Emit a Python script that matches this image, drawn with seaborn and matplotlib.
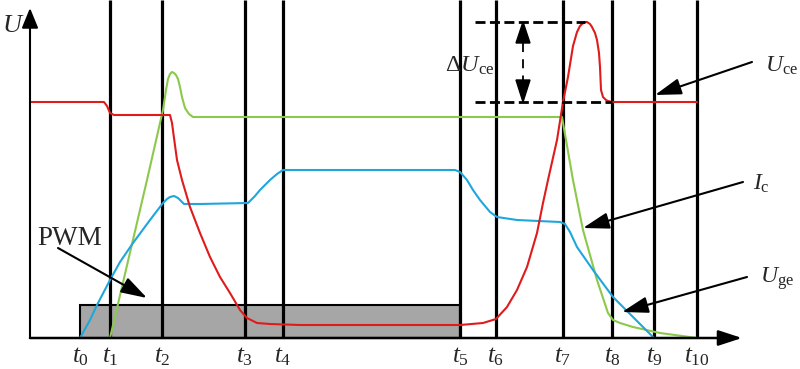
import matplotlib
matplotlib.use("Agg")
import matplotlib.pyplot as plt
import seaborn as sns
import pandas as pd
from matplotlib.patches import Rectangle, Polygon

# ---------------- data (x: time position, y: level above the time axis) -------------
t_names = ["t0", "t1", "t2", "t3", "t4", "t5", "t6", "t7", "t8", "t9", "t10"]
t_pos = [80, 110, 162, 245, 283, 460, 496, 563, 612, 654, 697]

uce_x = [30, 104, 107, 110, 114, 170, 172, 174, 177, 182, 190, 200, 210, 220, 230, 240, 247,
         257, 270, 300, 460, 483, 496, 507, 517, 527, 537, 543, 548, 557, 563, 568, 573,
         577, 580, 582, 585, 587, 590, 592, 595, 597, 599, 600, 601, 603, 606, 608, 612, 697]
uce_y = [236, 236, 232, 225, 223, 223, 215, 200, 178, 158, 131, 105, 81, 61, 45, 28, 20,
         15, 14, 13, 13, 15, 19, 31, 48, 71, 105, 135, 158, 198, 236, 261, 292,
         306, 312, 314, 316, 316, 314, 311, 305, 298, 285, 271, 248, 241, 238, 237, 236, 236]

uge_x = [110, 147, 160, 163, 166, 168, 170, 172, 174, 176, 178, 180, 182, 185, 189, 193,
         200, 562, 566, 573, 583, 597, 608, 613, 620, 633, 660, 697]
uge_y = [0, 158, 215, 228, 248, 259, 264, 266, 265, 263, 259, 251, 241, 230, 224, 221,
         221, 221, 198, 158, 108, 58, 25, 18, 15, 11, 5, 0]

ic_x = [80, 90, 97, 110, 120, 133, 150, 163, 167, 170, 174, 178, 184, 200, 248, 255, 260,
        270, 277, 283, 455, 460, 467, 473, 480, 490, 497, 517, 560, 565, 570, 577, 593,
        613, 633, 654, 697]
ic_y = [0, 18, 33, 58, 76, 95, 118, 135, 139, 141, 142, 140, 134, 134, 135, 142, 148,
        158, 164, 168, 168, 166, 158, 148, 138, 126, 121, 118, 116, 114, 106, 91, 68,
        41, 21, 0, 0]

pwm_start, pwm_end, pwm_level = 80, 460, 33
uce_low, uce_peak = 236, 316

# ---------------- style -------------
sns.set_style("white")
plt.rcParams["font.family"] = ["Liberation Serif", "DejaVu Serif"]
plt.rcParams["mathtext.fontset"] = "custom"
plt.rcParams["mathtext.rm"] = "Liberation Serif"
plt.rcParams["mathtext.it"] = "Liberation Serif:italic"

RED = "#e01b1b"
GREEN = "#8cc84b"
BLUE = "#1fa6dc"

fig = plt.figure(figsize=(8.0, 3.69), dpi=100)
ax = fig.add_axes([0, 0, 1, 1])

# PWM box
ax.add_patch(Rectangle((pwm_start, 0), pwm_end - pwm_start, pwm_level,
                       facecolor="#a6a6a6", edgecolor="black", lw=1.5, zorder=1))

# time markers
ax.vlines(t_pos[1:], 0, 338, colors="black", lw=2.3, zorder=2)

# curves
df_uce = pd.DataFrame({"x": uce_x, "y": uce_y})
df_uge = pd.DataFrame({"x": uge_x, "y": uge_y})
df_ic = pd.DataFrame({"x": ic_x, "y": ic_y})
sns.lineplot(data=df_uge, x="x", y="y", ax=ax, color=GREEN, lw=1.5, estimator=None, zorder=3)
sns.lineplot(data=df_ic, x="x", y="y", ax=ax, color=BLUE, lw=1.5, estimator=None, zorder=3)
sns.lineplot(data=df_uce, x="x", y="y", ax=ax, color=RED, lw=1.5, estimator=None, zorder=3)
ax.set_xlim(0, 800)
ax.set_ylim(-31, 338)
ax.axis("off")

# axes with arrows
ax.annotate("", xy=(30, 330), xytext=(30, 0),
            arrowprops=dict(arrowstyle="-|>,head_length=1.22,head_width=0.5", lw=1.5,
                            color="black", shrinkA=0, shrinkB=0, mutation_scale=10), zorder=4)
ax.annotate("", xy=(742, 0), xytext=(30, 0),
            arrowprops=dict(arrowstyle="-|>,head_length=1.44,head_width=0.47", lw=1.8,
                            color="black", shrinkA=0, shrinkB=0, mutation_scale=10), zorder=4)

ax.text(13, 312, "$U$", fontsize=19, ha="center", va="center")
for name, x in zip(t_names, t_pos):
    ax.text(x, -24, "$t_{%s}$" % name[1:], fontsize=18, ha="center", va="baseline")

# PWM label
ax.text(37, 93, "PWM", fontsize=19.5, ha="left", va="baseline")
arrow_kw = dict(arrowstyle="-|>,head_length=1.6,head_width=0.5", lw=1.5, color="black",
                shrinkA=0, shrinkB=0, mutation_scale=10)
ax.annotate("", xy=(147, 40), xytext=(58, 90), arrowprops=arrow_kw)

# Delta Uce
ax.hlines(uce_peak, 475, 585, colors="black", lw=2, linestyles=(0, (3.6, 1.6)), zorder=4)
ax.hlines(uce_low, 475, 612, colors="black", lw=2, linestyles=(0, (3.6, 1.6)), zorder=4)
ax.plot([523, 523], [295, 258], color="black", lw=1.3, ls=(0, (5, 4)), zorder=4)
ax.add_patch(Polygon([[523, uce_peak], [516, 295], [530, 295]], closed=True,
                     facecolor="black", edgecolor="black", zorder=4))
ax.add_patch(Polygon([[523, uce_low], [516, 258], [530, 258]], closed=True,
                     facecolor="black", edgecolor="black", zorder=4))
ax.text(445, 266, r"$\Delta U_{\rm ce}$", fontsize=17.5, ha="left", va="baseline")

# right labels
ax.text(765, 266, r"$U_{\rm ce}$", fontsize=17, ha="left", va="baseline")
ax.annotate("", xy=(655, 243), xytext=(752, 276), arrowprops=arrow_kw)
ax.text(753, 148, r"$I_{\rm c}$", fontsize=17, ha="left", va="baseline")
ax.annotate("", xy=(583, 110), xytext=(743, 156), arrowprops=arrow_kw)
ax.text(760, 55, r"$U_{\rm ge}$", fontsize=17, ha="left", va="baseline")
ax.annotate("", xy=(622, 26), xytext=(747, 61), arrowprops=arrow_kw)

fig.savefig("out.png", dpi=100)
